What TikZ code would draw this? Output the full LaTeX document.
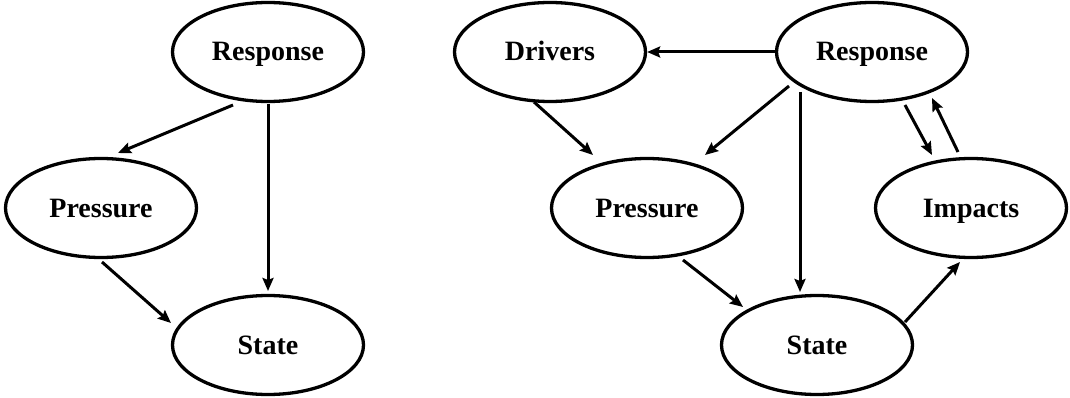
\documentclass[tikz,border=0pt]{standalone}
\usepackage{fontspec}
\setmainfont{Liberation Serif}
\usetikzlibrary{shapes.geometric,arrows.meta,calc}
\begin{document}
\begin{tikzpicture}[x=1pt,y=-1pt,
  box/.style={ellipse,draw,line width=3.3pt,minimum width=191pt,minimum height=99pt,
    inner sep=0pt,font=\fontsize{28}{30}\selectfont\bfseries,
    text height=18pt,text depth=0pt},
  arr/.style={line width=3pt,-{Stealth[length=13pt,width=11pt,inset=2pt]}}]
\useasboundingbox (0,0) rectangle (1070,398);
\fill[white] (0,0) rectangle (1070,398);

% Left model: pressure - state - response
\node[box] (R1) at (268,52)  {Response};
\node[box] (P1) at (101,208) {Pressure};
\node[box] (S1) at (268,345) {State};

\draw[arr] ($(R1)+(-35,53)$) -- ($(P1)+(17,-55)$);
\draw[arr] ($(P1)+(1,54)$)   -- ($(S1)+(-97,-22)$);
\draw[arr] ($(R1)+(0,52)$)   -- ($(S1)+(0,-54)$);

% Right model: drivers - pressure - state - impacts - response
\node[box] (D)  at (550,52)  {Drivers};
\node[box] (R2) at (872,52)  {Response};
\node[box] (P2) at (647,208) {Pressure};
\node[box] (I)  at (971,208) {Impacts};
\node[box] (S2) at (817,345) {State};

\draw[arr] (R2.west) -- (D.east);
\draw[arr] ($(D)+(-16,50)$)  -- ($(P2)+(-54,-53)$);
\draw[arr] ($(R2)+(-83,34)$) -- ($(P2)+(58,-53)$);
\draw[arr] ($(R2)+(-72,40)$) -- ($(S2)+(-17,-53)$);
\draw[arr] ($(P2)+(36,52)$)  -- ($(S2)+(-74,-38)$);
\draw[arr] ($(S2)+(88,-23)$) -- ($(I)+(-11,54)$);
\draw[arr] ($(R2)+(33,53)$)  -- ($(I)+(-39,-53)$);
\draw[arr] ($(I)+(-13,-56)$) -- ($(R2)+(60,46)$);
\end{tikzpicture}
\end{document}
